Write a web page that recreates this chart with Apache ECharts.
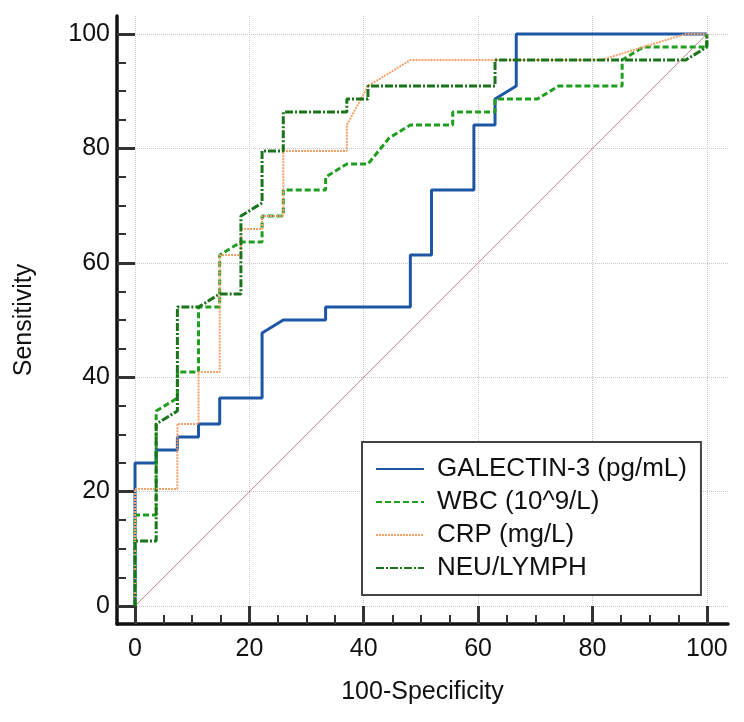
<!DOCTYPE html>
<html>
<head>
<meta charset="utf-8">
<script src="https://cdn.jsdelivr.net/npm/echarts@6.0.0/dist/echarts.min.js"></script>
<style>
  html, body { margin: 0; padding: 0; background: #fff; }
  #chart { width: 744px; height: 722px; }
</style>
</head>
<body>
<div id="chart"></div>
<script>
// ROC curves, [100-specificity, sensitivity]
const seriesNames = ['GALECTIN-3 (pg/mL)', 'WBC (10^9/L)', 'CRP (mg/L)', 'NEU/LYMPH']

const galectinRoc = [
  [0, 0], [0, 25], [3.70, 25], [3.70, 27.27], [7.41, 27.27], [7.41, 29.55],
  [11.11, 29.55], [11.11, 31.82], [14.81, 31.82], [14.81, 36.36], [22.22, 36.36],
  [22.22, 47.73], [25.93, 50], [33.33, 50], [33.33, 52.27], [48.15, 52.27],
  [48.15, 61.36], [51.85, 61.36], [51.85, 72.73], [59.26, 72.73], [59.26, 84.09],
  [62.96, 84.09], [62.96, 88.64], [66.67, 90.91], [66.67, 100], [100, 100]
]

const wbcRoc = [
  [0, 0], [0, 15.91], [3.70, 15.91], [3.70, 34.09], [7.41, 36.36], [7.41, 40.91],
  [11.11, 40.91], [11.11, 52.27], [14.81, 52.27], [14.81, 61.36], [18.52, 63.64],
  [22.22, 63.64], [22.22, 68.18], [25.93, 68.18], [25.93, 72.73], [33.33, 72.73],
  [33.33, 75], [37.04, 77.27], [40.74, 77.27], [44.44, 81.82], [48.15, 84.09],
  [55.56, 84.09], [55.56, 86.36], [62.96, 86.36], [62.96, 88.64], [70.37, 88.64],
  [74.07, 90.91], [85.19, 90.91], [85.19, 95.45], [88.89, 97.73], [100, 97.73], [100, 100]
]

const crpRoc = [
  [0, 0], [0, 20.45], [7.41, 20.45], [7.41, 31.82], [11.11, 31.82], [11.11, 40.91],
  [14.81, 40.91], [14.81, 61.36], [18.52, 61.36], [18.52, 65.91], [22.22, 65.91],
  [22.22, 68.18], [25.93, 68.18], [25.93, 79.55], [37.04, 79.55], [37.04, 84.09],
  [40.74, 90.91], [48.15, 95.45], [81.48, 95.45], [96.30, 100], [100, 100]
]

const neuLymphRoc = [
  [0, 0], [0, 11.36], [3.70, 11.36], [3.70, 31.82], [7.41, 34.09], [7.41, 52.27],
  [11.11, 52.27], [14.81, 54.55], [18.52, 54.55], [18.52, 68.18], [22.22, 70.45],
  [22.22, 79.55], [25.93, 79.55], [25.93, 86.36], [37.04, 86.36], [37.04, 88.64],
  [40.74, 88.64], [40.74, 90.91], [62.96, 90.91], [62.96, 95.45], [96.30, 95.45],
  [100, 97.73], [100, 100]
]

const chanceLine = [[0, 0], [100, 100]]

const majorTicks = [0, 20, 40, 60, 80, 100]
const minorTicks = [5, 10, 15, 25, 30, 35, 45, 50, 55, 65, 70, 75, 85, 90, 95]

const FONT = '"Liberation Sans", Arial, sans-serif'

// axis runs a little past 0 and 100 on both ends, like the original plot
const xRange = { min: -3.15, max: 103.7 }
const yRange = { min: -3.15, max: 103.15 }

function mainAxis(range, name, nameGap, pos) {
  return {
    type: 'value',
    position: pos,
    min: range.min,
    max: range.max,
    name: name,
    nameLocation: 'middle',
    nameGap: nameGap,
    nameTextStyle: { fontFamily: FONT, fontSize: 25, color: '#111' },
    axisLine: { show: true, onZero: false, lineStyle: { color: '#111', width: 3.5 } },
    axisTick: { show: true, inside: true, length: 18, customValues: majorTicks, lineStyle: { color: '#333', width: 3 } },
    axisLabel: { customValues: majorTicks, fontFamily: FONT, fontSize: 25, color: '#111', margin: pos === 'left' ? 7 : 13 },
    splitLine: { show: true, lineStyle: { color: '#c8c8c8', type: 'dotted', width: 1 } }
  }
}

function minorAxis(range, pos) {
  return {
    type: 'value',
    position: pos,
    min: range.min,
    max: range.max,
    axisLine: { show: false, onZero: false },
    axisTick: { show: true, inside: true, length: 9, customValues: minorTicks, lineStyle: { color: '#333', width: 2 } },
    axisLabel: { show: false },
    splitLine: { show: false }
  }
}

function rocSeries(name, data, color, width, dash) {
  return {
    name: name,
    type: 'line',
    xAxisIndex: 0,
    yAxisIndex: 0,
    data: data,
    symbol: 'none',
    lineStyle: { color: color, width: width, type: dash },
    itemStyle: { color: color },
    emphasis: { disabled: true }
  }
}

const chart = echarts.init(document.getElementById('chart'), null, { renderer: 'canvas' })

chart.setOption({
  animation: false,
  backgroundColor: '#fff',
  grid: { left: 117, right: 16, top: 16, bottom: 98 },
  xAxis: [mainAxis(xRange, '100-Specificity', 56, 'bottom'), minorAxis(xRange, 'bottom')],
  yAxis: [mainAxis(yRange, 'Sensitivity', 80, 'left'), minorAxis(yRange, 'left')],
  legend: {
    data: seriesNames,
    orient: 'vertical',
    left: 362,
    top: 442,
    padding: [14, 14, 14, 13],
    itemWidth: 48,
    itemHeight: 3,
    itemGap: 7,
    itemStyle: { opacity: 0 },
    backgroundColor: '#fff',
    borderColor: '#444',
    borderWidth: 2,
    textStyle: { fontFamily: FONT, fontSize: 26, lineHeight: 26, color: '#111', padding: [0, 0, 0, 8] }
  },
  series: [
    {
      type: 'line',
      data: chanceLine,
      symbol: 'none',
      silent: true,
      lineStyle: { color: '#bd8585', width: 1 }
    },
    rocSeries(seriesNames[0], galectinRoc, '#1d56a5', 3, 'solid'),
    rocSeries(seriesNames[1], wbcRoc, '#1f9e1f', 3, [6, 3]),
    rocSeries(seriesNames[2], crpRoc, '#f7a26c', 2, [2, 1]),
    rocSeries(seriesNames[3], neuLymphRoc, '#1b741b', 3, [8, 2, 2, 2])
  ]
})
</script>
</body>
</html>
